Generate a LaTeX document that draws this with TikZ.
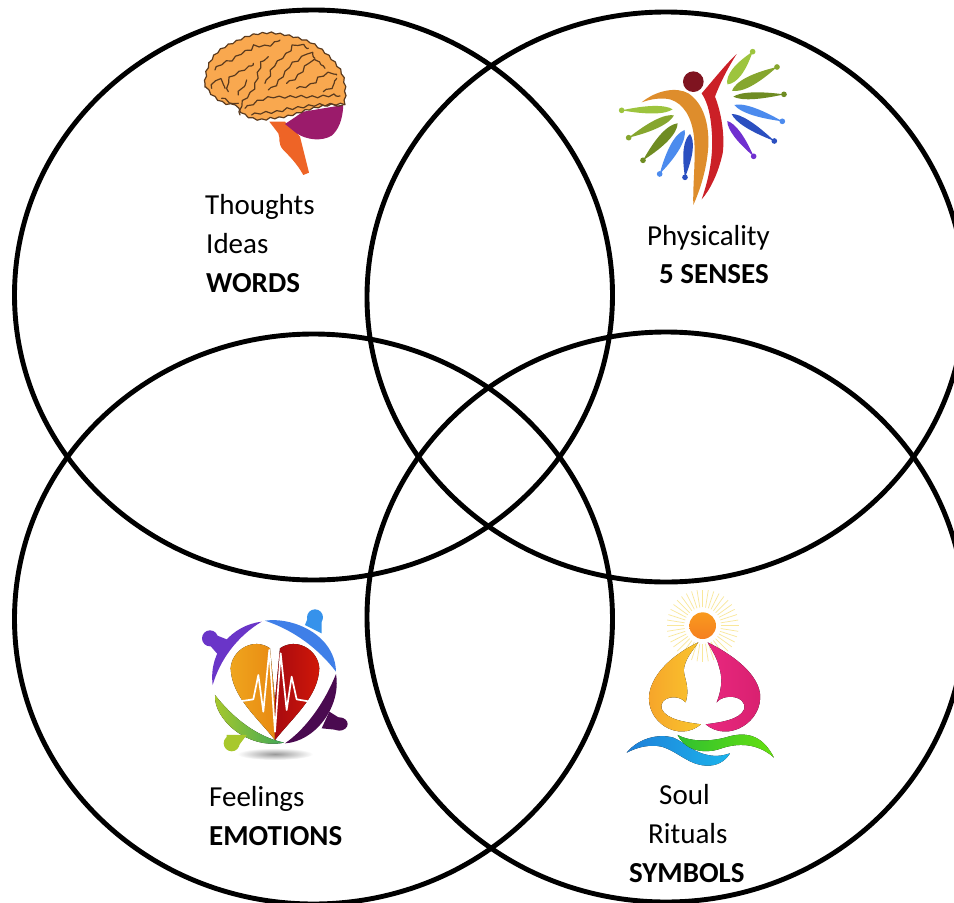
\documentclass[tikz,border=0pt]{standalone}
\usepackage{fontspec}
\setmainfont{Carlito}
\usetikzlibrary{calc,decorations.pathmorphing}
\definecolor{brainfill}{HTML}{F9A84F}
\definecolor{brainline}{HTML}{5A3A1E}
\definecolor{brainpurple}{HTML}{9B1B6B}
\definecolor{brainstem}{HTML}{EE6426}
\definecolor{headred}{HTML}{7F1420}
\definecolor{armorange}{HTML}{DE8D2C}
\definecolor{armred}{HTML}{CB2027}
\definecolor{lgreen}{HTML}{9DC43E}
\definecolor{mgreen}{HTML}{86A62E}
\definecolor{dgreen}{HTML}{6F8C22}
\definecolor{lblue}{HTML}{4C8BEE}
\definecolor{dblue}{HTML}{2B4FC0}
\definecolor{violet2}{HTML}{7030D0}
\definecolor{hpurple}{HTML}{6A35C8}
\definecolor{hblue}{HTML}{3F7FE8}
\definecolor{hdark}{HTML}{4A0A50}
\definecolor{hgreen}{HTML}{A8C82C}
\definecolor{hteal}{HTML}{3FA858}
\definecolor{hl}{HTML}{EFA51E}
\definecolor{hl2}{HTML}{E88A12}
\definecolor{hr}{HTML}{D01808}
\definecolor{hr2}{HTML}{A80A10}
\definecolor{lorange}{HTML}{F6A32A}
\definecolor{lyellow}{HTML}{F9C62E}
\definecolor{lpink}{HTML}{E9287F}
\definecolor{lpink2}{HTML}{D8206F}
\definecolor{lsun}{HTML}{F99A1E}
\definecolor{lsun2}{HTML}{F57F20}
\definecolor{lblue1}{HTML}{1E7FD8}
\definecolor{lblue2}{HTML}{1CB4EC}
\definecolor{lgr1}{HTML}{30C030}
\definecolor{lgr2}{HTML}{66E010}
\definecolor{lray}{HTML}{F9E79A}
\tikzset{
  venn/.style={draw=black,line width=4.9pt},
  lab/.style={anchor=base west,inner sep=0pt,font=\fontsize{29}{29}\selectfont},
  blab/.style={lab,font=\fontsize{29}{29}\selectfont\bfseries},
  sulcus/.style={draw=brainline,line width=1.2pt,line cap=round,line join=round,decorate,decoration={snake,amplitude=1.1pt,segment length=11pt}},
}
% dot tip, far end, colour, half width
\newcommand\spindle[4]{%
  \fill[#3] (#1) .. controls ($(#1)!0.5!(#2)!#4!90:(#2)$) and ($(#1)!0.85!(#2)!#4!90:(#2)$) .. (#2)
     .. controls ($(#1)!0.85!(#2)!#4!-90:(#2)$) and ($(#1)!0.5!(#2)!#4!-90:(#2)$) .. (#1) -- cycle;
  \fill[#3] (#1) circle (8.5);}
\begin{document}
\begin{tikzpicture}[x=1pt,y=-1pt]
\useasboundingbox (0,0) rectangle (954,903);
\begin{scope}
\clip (0,0) rectangle (954,903);
\fill[white] (0,0) rectangle (954,903);
% Brain
\begin{scope}[shift={(190,20)},x=0.3333pt,y=-0.3333pt]
  \fill[brainstem] (238,305) -- (285,305) .. controls (300,325) and (320,335) .. (330,350) -- (357,458) -- (340,465) .. controls (320,430) and (300,410) .. (280,390) .. controls (262,370) and (272,355) .. (265,340) -- cycle;
  \fill[brainpurple] (285,312) -- (340,275) -- (460,255) .. controls (458,300) and (445,330) .. (425,347) .. controls (395,365) and (350,360) .. (320,340) -- cycle;
  \path[fill=brainfill,draw=brainline,line width=1.2pt,line join=round,decorate,decoration={snake,amplitude=0.8pt,segment length=9pt}]
    (45,190) .. controls (48,150) and (60,125) .. (80,105) .. controls (100,85) and (130,75) .. (150,65)
    .. controls (180,50) and (210,45) .. (245,45) .. controls (290,50) and (330,60) .. (365,75)
    .. controls (400,95) and (430,125) .. (450,155) .. controls (465,180) and (470,220) .. (462,262)
    .. controls (430,262) and (390,268) .. (350,280) .. controls (310,295) and (280,305) .. (240,305)
    .. controls (215,315) and (175,310) .. (150,285) .. controls (140,275) and (140,268) .. (135,265)
    .. controls (110,270) and (85,255) .. (65,235) .. controls (50,220) and (45,205) .. (45,190) -- cycle;
  \draw[sulcus] (150,285) .. controls (150,255) and (165,245) .. (185,225) .. controls (200,205) and (200,180) .. (210,150) .. controls (215,130) and (225,120) .. (235,110);
  \draw[sulcus] (165,265) .. controls (190,250) and (210,240) .. (240,235) .. controls (260,240) and (290,235) .. (320,235) .. controls (360,240) and (400,235) .. (450,228);
  \draw[sulcus] (185,285) .. controls (220,275) and (240,285) .. (280,270) .. controls (320,270) and (360,255) .. (400,258) .. controls (420,255) and (440,260) .. (458,255);
  \draw[sulcus] (75,150) .. controls (90,130) and (110,135) .. (130,120) .. controls (150,95) and (170,105) .. (185,85) .. controls (205,75) and (225,100) .. (270,60);
  \draw[sulcus] (65,205) .. controls (70,175) and (95,185) .. (105,205);
  \draw[sulcus] (115,215) .. controls (110,190) and (120,175) .. (150,165) .. controls (165,150) and (180,160) .. (190,130);
  \draw[sulcus] (95,235) .. controls (110,240) and (125,255) .. (145,250);
  \draw[sulcus] (145,225) .. controls (150,205) and (165,205) .. (170,180);
  \draw[sulcus] (225,190) .. controls (240,170) and (235,150) .. (255,135) .. controls (265,115) and (285,115) .. (300,85) .. controls (315,70) and (335,85) .. (355,85);
  \draw[sulcus] (235,210) .. controls (255,200) and (265,175) .. (280,160) .. controls (290,130) and (320,130) .. (340,105) .. controls (350,100) and (365,110) .. (375,115);
  \draw[sulcus] (290,190) .. controls (320,175) and (330,155) .. (345,135) .. controls (365,125) and (390,125) .. (405,145);
  \draw[sulcus] (320,205) .. controls (345,200) and (370,195) .. (380,170) .. controls (395,160) and (420,150) .. (440,165);
  \draw[sulcus] (400,215) .. controls (425,205) and (430,190) .. (440,175);
\end{scope}
% Physicality
\begin{scope}[shift={(610,40)},x=0.3333pt,y=-0.3333pt]
  \fill[headred] (250,125) circle (31);
  \fill[armorange] (95,187) .. controls (140,150) and (200,140) .. (235,160) .. controls (280,190) and (298,250) .. (295,320) .. controls (290,390) and (270,450) .. (250,495) .. controls (248,430) and (258,360) .. (252,290) .. controls (245,230) and (220,190) .. (180,178) .. controls (150,172) and (120,178) .. (95,187) -- cycle;
  \fill[armred] (380,42) .. controls (350,90) and (330,130) .. (315,170) .. controls (335,220) and (345,290) .. (338,340) .. controls (325,400) and (300,450) .. (275,478) .. controls (295,420) and (312,350) .. (305,270) .. controls (302,230) and (295,190) .. (275,160) .. controls (310,120) and (345,75) .. (380,42) -- cycle;
  \spindle{428,35}{352,133}{lgreen}{7pt}
  \spindle{501,81}{366,152}{mgreen}{6.5pt}
  \spindle{522,163}{370,170}{dgreen}{4.5pt}
  \spindle{517,244}{373,195}{lblue}{5pt}
  \spindle{493,303}{365,222}{dblue}{5pt}
  \spindle{431,349}{352,243}{violet2}{5pt}
  \spindle{35,211}{188,208}{lgreen}{5pt}
  \spindle{56,293}{192,226}{mgreen}{5.5pt}
  \spindle{99,361}{203,250}{dgreen}{6.5pt}
  \spindle{149,402}{224,270}{lblue}{6.5pt}
  \spindle{225,412}{240,282}{dblue}{6pt}
\end{scope}
% Heart
\begin{scope}[shift={(190,600)},x=0.3333pt,y=-0.3333pt]
  \shade[inner color=black!40,outer color=white] (255,462) ellipse (38pt and 6pt);
  \fill[left color=hl,right color=hl2] (255,420) .. controls (200,350) and (125,290) .. (122,205) .. controls (125,150) and (190,110) .. (240,145) -- (255,300) -- cycle;
  \fill[left color=hr2,right color=hr] (255,420) .. controls (310,350) and (385,290) .. (388,205) .. controls (385,150) and (320,110) .. (270,145) -- (255,300) -- cycle;
  \draw[white,line width=1.7pt,line join=round] (110,310) -- (190,298) -- (205,225) -- (220,335) -- (238,150) -- (255,395) -- (272,160) -- (290,330) -- (305,230) -- (320,298) -- (390,310);
  % people
  \fill[hpurple] (215,65) .. controls (130,75) and (55,150) .. (68,255) .. controls (90,180) and (140,110) .. (215,65) -- cycle;
  \fill[hpurple] (60,115) circle (24);
  \fill[hpurple] (65,100) -- (120,122) -- (85,165) -- (50,125) -- cycle;
  \fill[hblue] (225,62) .. controls (310,50) and (435,105) .. (438,215) .. controls (385,145) and (310,90) .. (225,62) -- cycle;
  \fill[hblue!85!cyan] (375,52) circle (24);
  \fill[hblue!85!cyan] (355,50) -- (395,60) -- (395,100) -- (345,75) -- cycle;
  \fill[hdark] (438,222) .. controls (455,320) and (375,425) .. (285,430) .. controls (350,385) and (405,305) .. (438,222) -- cycle;
  \fill[hdark] (448,372) ellipse (25 and 20);
  \fill[hdark] (418,335) -- (450,355) -- (445,390) -- (395,385) -- cycle;
  \fill[left color=hgreen,right color=hteal] (75,285) .. controls (70,355) and (170,450) .. (282,428) .. controls (200,410) and (130,355) .. (75,285) -- cycle;
  \fill[hgreen] (125,430) circle (24);
  \fill[hgreen] (110,405) -- (170,405) -- (140,445) -- (110,440) -- cycle;
\end{scope}
% Lotus
\begin{scope}[shift={(615,585)},x=0.3333pt,y=-0.3333pt]
  \foreach \a in {0,9,...,351}{
    \draw[lray,line width=0.7pt] ($(263,122)+(\a:55)$) -- ($(263,122)+(\a:108)$);
  }
  \shade[top color=lsun,bottom color=lsun2] (263,122) circle (40);
  \fill[left color=lorange,right color=lyellow] (250,172) .. controls (180,205) and (115,260) .. (103,325) .. controls (90,410) and (190,475) .. (258,418) .. controls (215,412) and (155,405) .. (140,372) .. controls (130,335) and (190,325) .. (212,352) .. controls (228,300) and (200,270) .. (208,245) .. controls (215,215) and (235,195) .. (250,172) -- cycle;
  \fill[left color=lpink,right color=lpink2] (278,172) .. controls (345,205) and (425,260) .. (435,325) .. controls (445,410) and (340,475) .. (272,418) .. controls (315,412) and (375,405) .. (388,372) .. controls (395,330) and (325,325) .. (305,352) .. controls (325,300) and (320,270) .. (312,245) .. controls (305,215) and (290,195) .. (278,172) -- cycle;
  \fill[left color=lblue1,right color=lblue2] (35,503) .. controls (70,460) and (130,445) .. (175,458) .. controls (215,475) and (235,505) .. (290,512) .. controls (310,515) and (330,510) .. (345,505) .. controls (330,530) and (305,543) .. (275,542) .. controls (220,540) and (190,500) .. (140,485) .. controls (105,478) and (70,485) .. (35,503) -- cycle;
  \fill[left color=lgr1,right color=lgr2] (188,450) .. controls (230,472) and (290,470) .. (340,455) .. controls (400,438) and (445,455) .. (477,518) .. controls (435,480) and (380,470) .. (320,490) .. controls (280,505) and (215,505) .. (188,450) -- cycle;
\end{scope}
% Venn circles
\draw[venn] (313.5,295) ellipse (299pt and 285pt);
\draw[venn] (666,297) ellipse (299pt and 285pt);
\draw[venn] (313.5,619) ellipse (299pt and 285pt);
\draw[venn] (666,617) ellipse (299pt and 285pt);
\end{scope}
% Labels
\node[lab] (thoughts) at (205,214) {Thoughts};
\node[lab] (ideas) at (206,253) {Ideas};
\node[blab] (words) at (206,292) {WORDS};
\node[lab] (phys) at (647,245) {Physicality};
\node[blab] (senses) at (659,283) {5 SENSES};
\node[lab] (feel) at (209,806) {Feelings};
\node[blab] (emo) at (209,845) {EMOTIONS};
\node[lab] (soul) at (659,804) {Soul};
\node[lab] (rit) at (648,843) {Rituals};
\node[blab] (sym) at (629,882) {SYMBOLS};
\end{tikzpicture}
\end{document}
